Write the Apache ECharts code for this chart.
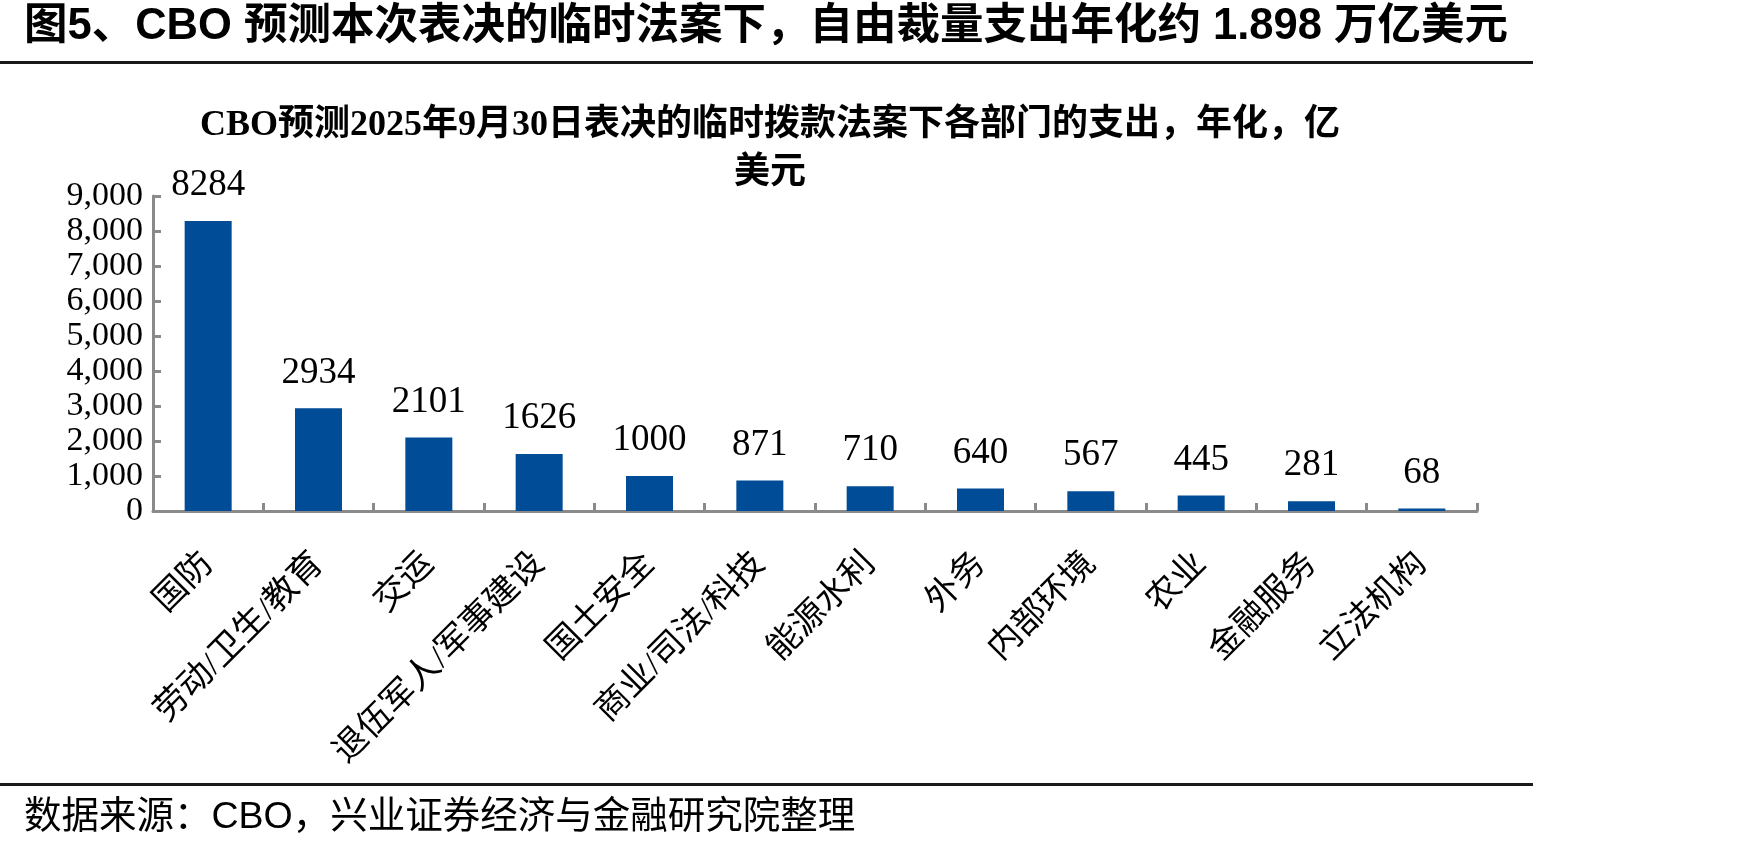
<!DOCTYPE html>
<html>
<head>
<meta charset="utf-8">
<title>CBO 临时法案下各部门支出</title>
<script src="https://cdn.jsdelivr.net/npm/echarts@6/dist/echarts.min.js"></script>
<style>
  html, body { margin: 0; padding: 0; background: #ffffff; }
  #chart { width: 1748px; height: 846px; }
</style>
</head>
<body>
<div id="chart"></div>
<script>
  // 各部门名称与年化支出（亿美元）
  const departments = ['国防', '劳动/卫生/教育', '交运', '退伍军人/军事建设', '国土安全', '商业/司法/科技', '能源水利', '外务', '内部环境', '农业', '金融服务', '立法机构'];
  const spending = [8284, 2934, 2101, 1626, 1000, 871, 710, 640, 567, 445, 281, 68];
  const yTicks = [0, 1000, 2000, 3000, 4000, 5000, 6000, 7000, 8000, 9000];

  const headline = '图5、CBO 预测本次表决的临时法案下，自由裁量支出年化约 1.898 万亿美元';
  const chartTitle = 'CBO预测2025年9月30日表决的临时拨款法案下各部门的支出，年化，亿\n美元';
  const source = '数据来源：CBO，兴业证券经济与金融研究院整理';

  const serif = '"Times New Roman", "Liberation Serif", "Noto Sans CJK SC", serif';
  const sans = 'Arial, "Liberation Sans", "Noto Sans CJK SC", sans-serif';
  const axisGray = '#8a8a8a';

  const myChart = echarts.init(document.getElementById('chart'));

  myChart.setOption({
    backgroundColor: '#ffffff',
    animation: false,
    title: {
      text: chartTitle,
      left: 765,
      top: 97,
      textAlign: 'center',
      textStyle: {
        fontFamily: serif,
        fontWeight: 'bold',
        fontSize: 36,
        lineHeight: 48,
        color: '#000000',
      },
    },
    grid: {
      left: 153,
      right: 271,
      top: 196,
      bottom: 335,
    },
    xAxis: {
      type: 'category',
      data: departments,
      axisLine: {
        lineStyle: { color: axisGray, width: 3 },
      },
      axisTick: {
        show: true,
        inside: true,
        length: 8,
        lineStyle: { color: axisGray, width: 3 },
      },
      axisLabel: {
        rotate: 45,
        margin: 48,
        fontFamily: serif,
        fontSize: 34,
        color: '#000000',
        interval: 0,
      },
    },
    yAxis: {
      type: 'value',
      min: 0,
      max: 9000,
      interval: 1000,
      axisLine: {
        show: true,
        lineStyle: { color: axisGray, width: 3 },
      },
      axisTick: {
        show: true,
        inside: true,
        length: 8,
        lineStyle: { color: axisGray, width: 3 },
      },
      splitLine: { show: false },
      axisLabel: {
        margin: 10,
        fontFamily: serif,
        fontSize: 34,
        color: '#000000',
        formatter: function (value) {
          return yTicks.indexOf(value) >= 0 ? value.toLocaleString('en-US') : '';
        },
      },
    },
    series: [
      {
        name: '支出',
        type: 'bar',
        data: spending,
        barWidth: 47,
        itemStyle: { color: '#004C97' },
        label: {
          show: true,
          position: 'top',
          distance: 17,
          fontFamily: serif,
          fontSize: 37,
          color: '#000000',
        },
      },
    ],
    graphic: [
      {
        type: 'text',
        left: 24,
        top: 5,
        style: {
          text: headline,
          font: 'bold 43.5px ' + sans,
          fill: '#000000',
        },
      },
      {
        type: 'rect',
        shape: { x: 0, y: 61, width: 1533, height: 3 },
        style: { fill: '#1a1a1a' },
      },
      {
        type: 'rect',
        shape: { x: 0, y: 783, width: 1533, height: 3 },
        style: { fill: '#1a1a1a' },
      },
      {
        type: 'text',
        left: 24,
        top: 799,
        style: {
          text: source,
          font: '37.5px ' + sans,
          fill: '#000000',
        },
      },
    ],
  });

  window.addEventListener('resize', function () {
    myChart && myChart.resize();
  });
</script>
</body>
</html>
